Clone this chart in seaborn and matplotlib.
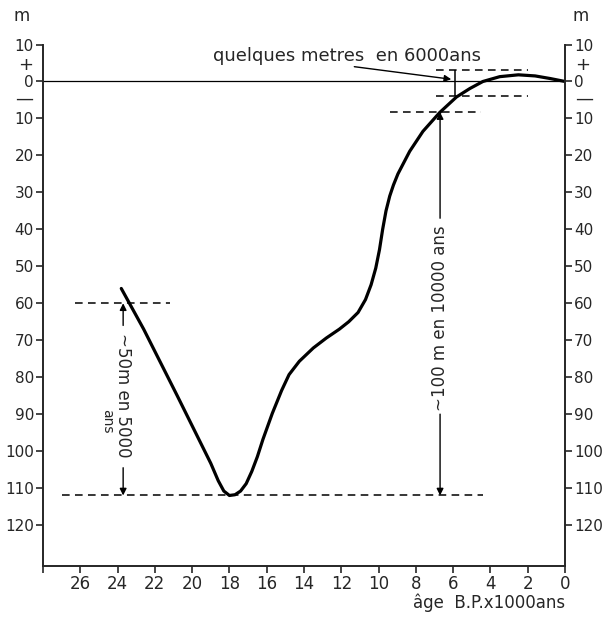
import matplotlib
matplotlib.use('Agg')
import matplotlib.pyplot as plt
import seaborn as sns
import pandas as pd

# Sea level curve (age in kyr B.P., level in m)
age = [23.8, 22.6, 20.8, 19.0, 18.6, 18.3, 18.0, 17.7, 17.4, 17.1, 16.8, 16.5, 16.2, 15.7,
       15.2, 14.8, 14.25, 13.5, 12.8, 12.1, 11.6, 11.1, 10.7, 10.4, 10.15, 9.95, 9.78,
       9.6, 9.4, 9.2, 8.96, 8.33, 7.62, 6.72, 5.82, 5.1, 4.4, 3.5, 2.5, 1.6, 0.8, 0.0]
level = [-56, -67, -85, -103.3, -108, -110.8, -112, -111.8, -110.8, -108.8, -105.5, -101.5, -96.8, -89.8,
         -83.6, -79.3, -75.7, -72.1, -69.4, -67, -65, -62.5, -59, -55, -50.5, -45.5, -40,
         -35, -31, -28, -25, -18.9, -13.5, -8.4, -4.2, -1.9, 0.0, 1.3, 1.8, 1.5, 0.8, 0.0]

x_ticks = [28, 26, 24, 22, 20, 18, 16, 14, 12, 10, 8, 6, 4, 2, 0]
x_tick_labels = [''] + [str(v) for v in x_ticks[1:]]
y_ticks = [10, 0, -10, -20, -30, -40, -50, -60, -70, -80, -90, -100, -110, -120]
y_tick_labels = [str(abs(v)) for v in y_ticks]

# reference levels (dashed) : level, from age, to age
ref_levels = [-60, -112, -8.3, 3.0, -3.8]
ref_from = [26.3, 27.0, 9.4, 6.9, 6.9]
ref_to = [21.2, 4.4, 4.5, 2.0, 2.0]

sns.set_style('ticks')
plt.rcParams['font.family'] = ['DejaVu Sans']
plt.rcParams['axes.linewidth'] = 1.4

fig = plt.figure(figsize=(6.02, 6.19), dpi=100)
ax = fig.add_axes([0.0714, 0.0861, 0.8671, 0.842])

df = pd.DataFrame({'age': age, 'level': level})
sns.lineplot(data=df, x='age', y='level', sort=False, estimator=None,
             color='black', lw=2.3, ax=ax)

ax.axhline(0, color='black', lw=0.9)
ax.hlines(ref_levels, ref_from, ref_to, colors='black', lw=1.1,
          linestyles=(0, (5, 3.5)))
ax.vlines([5.9], [-3.8], [3.0], colors='black', lw=1.1)

arrow = dict(arrowstyle='-|>', lw=1.0, color='black', shrinkA=0, shrinkB=0,
             mutation_scale=10)

# ~50 m en 5000 ans
ax.annotate('', xy=(23.7, -60), xytext=(23.7, -66), arrowprops=arrow)
ax.annotate('', xy=(23.7, -112), xytext=(23.7, -104.5), arrowprops=arrow)
ax.text(23.7, -85, '~50m en 5000', rotation=270, ha='center', va='center', fontsize=12)
ax.text(24.55, -92, 'ans', rotation=270, ha='center', va='center', fontsize=10)

# ~100 m en 10000 ans
ax.annotate('', xy=(6.7, -8.3), xytext=(6.7, -37), arrowprops=arrow)
ax.annotate('', xy=(6.7, -112), xytext=(6.7, -90), arrowprops=arrow)
ax.text(6.7, -64, '~100 m en 10000 ans', rotation=90, ha='center', va='center', fontsize=12)

# quelques metres en 6000 ans
ax.text(18.9, 7.0, 'quelques metres  en 6000ans', ha='left', va='center', fontsize=13)
ax.annotate('', xy=(6.1, 0.6), xytext=(11.3, 4.0), arrowprops=arrow)

ax.set_xlim(28, 0)
ax.set_ylim(-131, 10)
ax.set_xticks(x_ticks)
ax.set_xticklabels(x_tick_labels)
ax.set_yticks(y_ticks)
ax.set_yticklabels(y_tick_labels)
ax.set_yticks([5, -4], minor=True)
ax.set_yticklabels(['+', '\u2014'], minor=True)
ax.tick_params(which='major', length=5, width=1.2, labelsize=12, pad=2)
ax.tick_params(axis='y', which='major', labelsize=11, pad=1.5)
ax.tick_params(axis='y', which='both', left=True, right=True,
               labelleft=True, labelright=True)
ax.tick_params(which='minor', length=0, labelsize=13, pad=7)
ax.spines['top'].set_visible(False)

ax.set_xlabel('âge  B.P.x1000ans', loc='right', fontsize=12, labelpad=0)
ax.set_ylabel('')
fig.text(22 / 602, 1 - 16 / 619, 'm', ha='center', va='center', fontsize=12)
fig.text(581 / 602, 1 - 16 / 619, 'm', ha='center', va='center', fontsize=12)

fig.savefig('out.png', dpi=100)
